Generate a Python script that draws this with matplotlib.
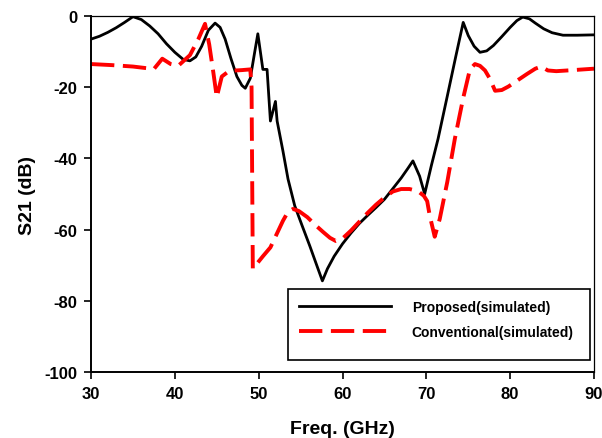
import numpy as np
import matplotlib
matplotlib.use("Agg")
import matplotlib.pyplot as plt
from matplotlib.patches import Rectangle

plt.rcParams['font.family'] = ['Liberation Sans', 'DejaVu Sans']
plt.rcParams['axes.unicode_minus'] = False

# S21 of the proposed filter (simulated)
freq_prop = [30, 31, 32, 33, 34, 35, 36, 37, 38, 39, 40, 41, 41.8, 42.5, 43.2, 44.0,
             44.8, 45.4, 46.0, 46.7, 47.4, 48.0, 48.4, 49.0, 49.5, 49.9, 50.2, 50.5,
             51.0, 51.4, 52.0, 52.2, 52.9, 53.5, 54.3, 55.2, 56.1, 57.0, 57.6, 58.2,
             59.0, 60.0, 61.0, 62.0, 63.0, 64.0, 65.0, 66.0, 67.0, 67.8, 68.4, 69.2,
             69.8, 70.6, 71.4, 72.5, 73.5, 74.4, 75.0, 75.7, 76.4, 77.2, 78.0, 79.0,
             80.0, 80.8, 81.5, 82.3, 83.0, 84.0, 85.0, 86.3, 88.0, 90]
s21_prop = [-6.5, -5.7, -4.6, -3.3, -1.8, -0.2, -1.0, -2.8, -5.0, -7.8, -10.2, -12.2, -12.6, -11.5, -8.5, -4.0,
            -2.0, -3.2, -6.5, -12.0, -17.0, -19.5, -20.3, -17.5, -10.5, -5.0, -10.0, -15.0,
            -15.0, -29.5, -24.0, -29.5, -38.0, -45.8, -53.3, -59.0, -64.6, -70.5, -74.4, -71.0,
            -67.5, -64.0, -61.0, -58.3, -56.0, -53.8, -51.5, -48.5, -45.5, -42.8, -40.7, -45.0,
            -50.0, -42.0, -34.5, -22.5, -11.5, -1.8, -5.5, -8.5, -10.2, -9.8, -8.3, -5.8,
            -3.2, -1.3, -0.3, -0.8, -2.0, -3.6, -4.7, -5.4, -5.4, -5.3]

# S21 of the conventional filter (simulated)
freq_conv = [30, 32.5, 35, 37.5, 38.5, 39.5, 40.4, 41.8, 42.8, 43.6, 44.1, 44.6, 45.0,
             45.6, 46.5, 48.0, 49.0, 49.15, 49.3, 50.5, 51.4, 52.2, 52.9, 53.5, 54.1,
             54.8, 55.8, 56.8, 57.7, 58.5, 59.2, 60.0, 61.0, 62.0, 63.0, 64.0, 65.0,
             66.0, 67.0, 68.0, 69.0, 69.7, 70.1, 70.4, 71.0, 71.6, 72.5, 73.4, 74.4,
             75.2, 75.8, 76.4, 77.0, 77.6, 78.2, 79.0, 79.8, 80.8, 82.0, 83.0, 83.7,
             84.5, 85.5, 87.5, 90]
s21_conv = [-13.5, -13.8, -14.2, -14.9, -12.0, -13.5, -14.0, -11.0, -6.5, -2.2, -8.0, -16.0, -22.8,
            -17.0, -15.4, -15.2, -15.0, -20.0, -71.0, -67.5, -65.0, -61.0, -57.5, -55.0, -54.2,
            -54.8, -56.5, -58.8, -60.7, -62.3, -63.2, -62.5, -60.3, -57.8, -55.3, -53.0, -51.0,
            -49.3, -48.6, -48.6, -49.2, -50.5, -52.0, -56.0, -62.0, -57.0, -46.6, -34.5, -23.0,
            -15.0, -13.5, -14.0, -15.3, -17.7, -21.0, -20.8, -19.8, -18.2, -16.3, -14.8, -14.2,
            -15.3, -15.5, -15.2, -14.8]

xticks = [30, 40, 50, 60, 70, 80, 90]
yticks = [-100, -80, -60, -40, -20, 0]

fig = plt.figure(figsize=(6.02, 4.39), dpi=100)
ax = fig.add_axes([0.1512, 0.1503, 0.8355, 0.811])

ax.plot(freq_prop, s21_prop, color='black', lw=2.0, label='Proposed(simulated)',
        solid_joinstyle='round')
ax.plot(freq_conv, s21_conv, color='#ff0000', lw=2.8, dashes=(6, 2.2),
        label='Conventional(simulated)', dash_capstyle='butt', dash_joinstyle='round')

ax.set_xlim(30, 90)
ax.set_ylim(-100, 0)
ax.set_xticks(xticks)
ax.set_yticks(yticks)
ax.tick_params(direction='out', length=5, width=1.2, labelsize=12, pad=5)
for lab in ax.get_xticklabels() + ax.get_yticklabels():
    lab.set_fontweight('bold')

for side in ['left', 'bottom']:
    ax.spines[side].set_linewidth(1.4)
for side in ['top', 'right']:
    ax.spines[side].set_linewidth(0.9)

ax.set_xlabel('Freq. (GHz)', fontsize=14, fontweight='bold', labelpad=14)
ax.set_ylabel('S21 (dB)', fontsize=14, fontweight='bold', labelpad=6)

# legend frame drawn separately so the box can be taller than its entries
ax.add_patch(Rectangle((0.392, 0.034), 0.6, 0.199, transform=ax.transAxes,
                       facecolor='white', edgecolor='black', lw=1.2, zorder=4))
leg = ax.legend(loc='upper left', bbox_to_anchor=(0.392, 0.233), frameon=False,
                prop={'size': 10, 'weight': 'bold'}, handlelength=6.6,
                handletextpad=1.5, labelspacing=0.75, borderpad=0.3)
leg.set_zorder(5)

fig.savefig('out.png', dpi=100)
